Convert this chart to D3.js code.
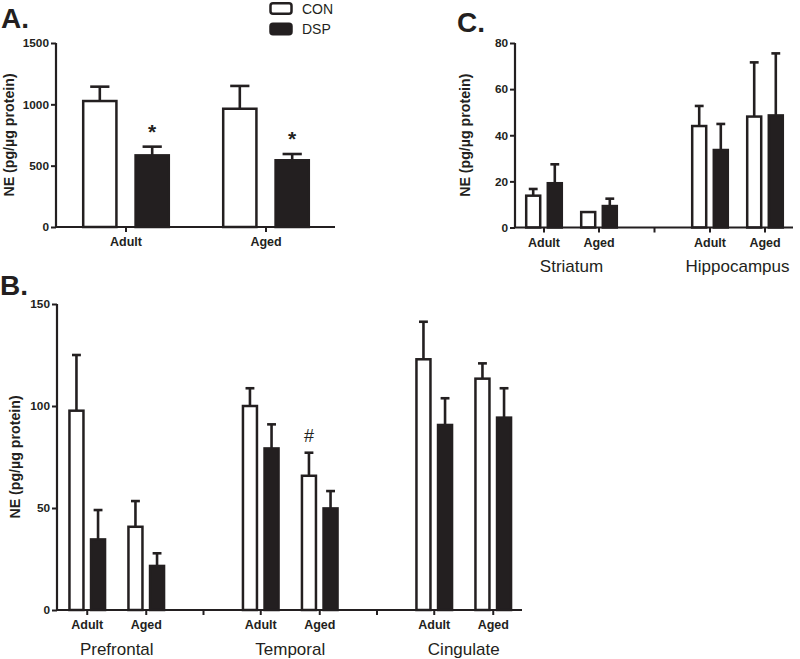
<!DOCTYPE html>
<html>
<head>
<meta charset="utf-8">
<script src="https://cdn.jsdelivr.net/npm/d3@7"></script>
<style>
html,body{margin:0;padding:0;background:#fff;}
svg{display:block;font-family:"Liberation Sans",Arial,sans-serif;}
</style>
</head>
<body>
<svg id="chart" width="800" height="659"></svg>
<script>
// ---- Data ----
const series = ["CON", "DSP"];
const ages = ["Adult", "Aged"];

// Panel A
const regionsA = [""];
const conA = [1027, 964];
const conAErr = [117, 186];
const dspA = [584, 544];
const dspAErr = [71, 51];
const ticksA = [0, 500, 1000, 1500];
const marksA = [{series: "DSP", index: 0, sym: "*"}, {series: "DSP", index: 1, sym: "*"}];

// Panel B
const regionsB = ["Prefrontal", "Temporal", "Cingulate"];
const conB = [97.7, 40.8, 100, 65.8, 122.9, 113.4];
const conBErr = [27.3, 12.6, 8.7, 11.3, 18.4, 7.5];
const dspB = [34.6, 21.6, 79.2, 49.8, 90.7, 94.3];
const dspBErr = [14.4, 6.2, 11.8, 8.5, 13.1, 14.4];
const ticksB = [0, 50, 100, 150];
const marksB = [{series: "CON", index: 3, sym: "#"}];

// Panel C
const regionsC = ["Striatum", "Hippocampus"];
const conC = [13.8, 6.7, 44.0, 48.1];
const conCErr = [2.9, 0, 8.7, 23.5];
const dspC = [19.2, 9.3, 33.6, 48.6];
const dspCErr = [8.2, 3.2, 11.3, 26.9];
const ticksC = [0, 20, 40, 60, 80];

const yLabel = "NE (pg/\u00b5g protein)";
const DARK = "#231f20";

const svg = d3.select("#chart");

function drawPanel(cfg) {
  const g = svg.append("g");
  const y = d3.scaleLinear().domain(cfg.yDomain).range([cfg.y0, cfg.y1]);
  const xRegion = d3.scaleBand().domain(cfg.regions).range(cfg.regionRange).paddingInner(0).paddingOuter(0);
  const bw = xRegion.bandwidth();
  const xAge = d3.scalePoint().domain(ages).range([bw / 2 - cfg.ageHalf, bw / 2 + cfg.ageHalf]);
  const xSeries = d3.scaleBand().domain(series).range([-cfg.pairHalf, cfg.pairHalf]).paddingInner(cfg.pairPad);
  const sw = xSeries.bandwidth();

  const data = [];
  cfg.regions.forEach((r, ri) => {
    ages.forEach((a, ai) => {
      const idx = ri * ages.length + ai;
      const cx = xRegion(r) + xAge(a);
      data.push({series: "CON", idx, cx, v: cfg.con[idx], e: cfg.conErr[idx]});
      data.push({series: "DSP", idx, cx, v: cfg.dsp[idx], e: cfg.dspErr[idx]});
    });
  });

  // error bars (upper only)
  data.filter(d => d.e > 0).forEach(d => {
    const bx = d.cx + xSeries(d.series) + sw / 2;
    g.append("line").attr("x1", bx).attr("x2", bx)
      .attr("y1", y(d.v)).attr("y2", y(d.v + d.e))
      .attr("stroke", DARK).attr("stroke-width", 2.6);
    g.append("line").attr("x1", bx - sw * 0.27).attr("x2", bx + sw * 0.27)
      .attr("y1", y(d.v + d.e)).attr("y2", y(d.v + d.e))
      .attr("stroke", DARK).attr("stroke-width", 2.6);
  });

  // bars
  g.selectAll("rect.bar").data(data).enter().append("rect")
    .attr("class", "bar")
    .attr("x", d => d.cx + xSeries(d.series) + 1.2)
    .attr("width", sw - 2.4)
    .attr("y", d => y(d.v))
    .attr("height", d => y(0) - y(d.v))
    .attr("fill", d => d.series === "CON" ? "#fff" : DARK)
    .attr("stroke", DARK).attr("stroke-width", 2.5);

  // significance marks
  (cfg.marks || []).forEach(m => {
    const d = data.find(q => q.series === m.series && q.idx === m.index);
    const bx = d.cx + xSeries(d.series) + sw / 2;
    const top = y(d.v + d.e);
    if (m.sym === "*") {
      g.append("text").attr("x", bx).attr("y", top - 8).attr("text-anchor", "middle")
        .attr("font-size", 21).attr("font-weight", "bold").attr("fill", DARK).text("*");
    } else {
      g.append("text").attr("x", bx).attr("y", top - 11).attr("text-anchor", "middle")
        .attr("font-size", 18).attr("fill", DARK).text(m.sym);
    }
  });

  // y axis
  const yAxis = d3.axisLeft(y).tickValues(cfg.ticks).tickSize(5).tickPadding(2).tickFormat(d3.format("d"));
  const ya = g.append("g").attr("transform", `translate(${cfg.xAxis0},0)`).call(yAxis);
  ya.select(".domain").attr("stroke", DARK).attr("stroke-width", 2.2).attr("d", `M0,${y(cfg.yDomain[1])}V${y(0)}`);
  ya.selectAll(".tick line").attr("stroke", DARK).attr("stroke-width", 2);
  ya.selectAll(".tick text").attr("font-size", 11.8).attr("font-weight", "bold")
    .attr("font-family", "Liberation Sans, Arial, sans-serif").attr("fill", DARK);

  // x axis
  g.append("line").attr("x1", cfg.xAxis0).attr("x2", cfg.xAxis1)
    .attr("y1", y(0)).attr("y2", y(0)).attr("stroke", DARK).attr("stroke-width", 2.2);
  const tickXs = [];
  cfg.regions.forEach((r, ri) => {
    ages.forEach(a => tickXs.push({x: xRegion(r) + xAge(a), label: a}));
    if (ri < cfg.regions.length - 1) tickXs.push({x: xRegion(r) + bw, label: ""});
  });
  tickXs.forEach(t => {
    g.append("line").attr("x1", t.x).attr("x2", t.x).attr("y1", y(0)).attr("y2", y(0) + 5)
      .attr("stroke", DARK).attr("stroke-width", 2);
    if (t.label) {
      g.append("text").attr("x", t.x).attr("y", y(0) + cfg.ageLabelDy).attr("text-anchor", "middle")
        .attr("font-size", 12.5).attr("font-weight", "bold").attr("fill", DARK).text(t.label);
    }
  });
  // region labels
  cfg.regions.forEach(r => {
    if (!r) return;
    g.append("text").attr("x", xRegion(r) + bw / 2).attr("y", y(0) + cfg.regionLabelDy)
      .attr("text-anchor", "middle").attr("font-size", 17).attr("fill", DARK).text(r);
  });

  // y label
  g.append("text").attr("transform", `translate(${cfg.yLabelX},${(cfg.y0 + cfg.y1) / 2}) rotate(-90)`)
    .attr("text-anchor", "middle").attr("font-size", 14.2).attr("font-weight", "bold")
    .attr("fill", DARK).text(yLabel);

  // panel letter
  g.append("text").attr("x", cfg.letterX).attr("y", cfg.letterY).attr("font-size", 28)
    .attr("font-weight", "bold").attr("fill", DARK).text(cfg.letter);
}

drawPanel({
  letter: "A.", letterX: 1, letterY: 28,
  regions: regionsA, con: conA, conErr: conAErr, dsp: dspA, dspErr: dspAErr,
  yDomain: [0, 1500], y0: 227, y1: 43, ticks: ticksA,
  regionRange: [56, 336], ageHalf: 70, pairHalf: 44, pairPad: 0.32,
  xAxis0: 56, xAxis1: 335, ageLabelDy: 19, regionLabelDy: 44, yLabelX: 13.5,
  marks: marksA
});

drawPanel({
  letter: "B.", letterX: 0, letterY: 295,
  regions: regionsB, con: conB, conErr: conBErr, dsp: dspB, dspErr: dspBErr,
  yDomain: [0, 150], y0: 610, y1: 304, ticks: ticksB,
  regionRange: [30, 550.5], ageHalf: 29.5, pairHalf: 19, pairPad: 0.24,
  xAxis0: 57, xAxis1: 522, ageLabelDy: 19, regionLabelDy: 45, yLabelX: 20,
  marks: marksB
});

drawPanel({
  letter: "C.", letterX: 457, letterY: 32,
  regions: regionsC, con: conC, conErr: conCErr, dsp: dspC, dspErr: dspCErr,
  yDomain: [0, 80], y0: 227.5, y1: 43, ticks: ticksC,
  regionRange: [488.5, 820.5], ageHalf: 27.5, pairHalf: 19, pairPad: 0.24,
  xAxis0: 515, xAxis1: 793, ageLabelDy: 19, regionLabelDy: 44, yLabelX: 470,
  marks: []
});

// legend
const legend = svg.append("g");
const legY = d3.scalePoint().domain(series).range([8.5, 29]);
series.forEach(s => {
  legend.append("rect").attr("x", 270.5).attr("y", legY(s) - 5.2).attr("width", 21).attr("height", 10.4)
    .attr("rx", 2.5).attr("fill", s === "CON" ? "#fff" : DARK).attr("stroke", DARK).attr("stroke-width", 2.5);
  legend.append("text").attr("x", 302).attr("y", legY(s) + 5).attr("font-size", 14)
    .attr("fill", DARK).text(s);
});
</script>
</body>
</html>
